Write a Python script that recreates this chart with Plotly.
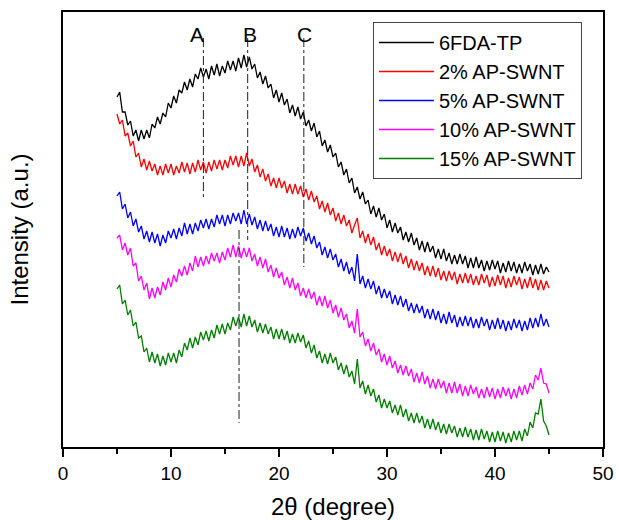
import plotly.graph_objects as go

# XRD scans, 2-theta 5..45 deg, step 0.25 deg (a.u.)
two_theta = [round(5.0 + 0.25 * i, 2) for i in range(161)]

fda_tp = [
    350, 355, 335, 335, 322, 326, 311, 317,
    306, 317, 308, 317, 309, 323, 319, 330,
    323, 334, 330, 344, 339, 351, 344, 357,
    354, 365, 357, 368, 360, 373, 368, 379,
    370, 378, 368, 381, 372, 383, 371, 381,
    374, 386, 377, 386, 376, 389, 379, 392,
    380, 390, 378, 383, 369, 375, 363, 371,
    359, 363, 349, 357, 345, 354, 342, 348,
    334, 342, 331, 340, 328, 335, 321, 327,
    316, 324, 310, 316, 301, 307, 295, 302,
    290, 294, 280, 285, 272, 278, 264, 269,
    254, 260, 248, 255, 243, 247, 233, 241,
    230, 239, 227, 233, 219, 227, 215, 224,
    214, 220, 207, 215, 205, 214, 202, 209,
    197, 206, 195, 205, 195, 201, 189, 198,
    188, 198, 186, 194, 183, 192, 183, 193,
    183, 191, 179, 189, 179, 190, 179, 187,
    176, 186, 177, 187, 178, 186, 174, 184,
    175, 186, 176, 185, 174, 183, 174, 185,
    176, 183, 172, 182, 173, 183, 173, 180,
    175,
]
swnt_2 = [
    333, 323, 327, 311, 314, 301, 306, 290,
    294, 280, 288, 277, 286, 276, 283, 272,
    281, 272, 283, 274, 283, 272, 281, 274,
    285, 275, 284, 273, 284, 275, 287, 277,
    285, 274, 285, 276, 287, 278, 287, 277,
    287, 279, 291, 282, 291, 280, 291, 281,
    294, 281, 288, 275, 282, 270, 278, 266,
    273, 261, 269, 259, 269, 259, 266, 254,
    263, 253, 263, 253, 261, 250, 258, 247,
    256, 245, 251, 238, 246, 235, 244, 232,
    239, 226, 234, 223, 232, 221, 227, 214,
    222, 229, 209, 216, 204, 213, 202, 210,
    197, 204, 192, 201, 191, 198, 186, 195,
    185, 194, 183, 191, 179, 188, 177, 186,
    176, 184, 172, 181, 171, 181, 170, 179,
    167, 176, 166, 176, 167, 175, 163, 173,
    164, 174, 164, 173, 162, 171, 162, 173,
    164, 172, 160, 170, 161, 172, 162, 171,
    159, 169, 160, 171, 162, 170, 158, 168,
    159, 170, 159, 168, 157, 167, 157, 166,
    159,
]
swnt_5 = [
    251, 255, 238, 243, 229, 235, 221, 228,
    215, 221, 208, 216, 205, 215, 204, 213,
    201, 212, 204, 216, 209, 218, 208, 219,
    211, 224, 213, 223, 213, 224, 216, 227,
    219, 228, 218, 228, 220, 232, 223, 232,
    221, 232, 223, 234, 226, 234, 223, 237,
    223, 233, 222, 230, 218, 227, 216, 226,
    216, 223, 211, 220, 210, 221, 210, 219,
    208, 218, 209, 220, 211, 219, 206, 214,
    203, 211, 199, 205, 192, 200, 189, 198,
    187, 193, 180, 188, 176, 185, 173, 180,
    166, 193, 163, 171, 159, 168, 158, 166,
    153, 161, 149, 158, 149, 156, 143, 152,
    142, 151, 140, 148, 136, 144, 134, 143,
    134, 141, 129, 138, 128, 138, 127, 136,
    124, 133, 123, 135, 124, 132, 120, 130,
    121, 131, 121, 130, 119, 128, 119, 130,
    121, 128, 117, 127, 118, 129, 118, 127,
    116, 126, 117, 128, 119, 127, 116, 126,
    117, 129, 119, 129, 120, 133, 121, 128,
    120,
]
swnt_10 = [
    209, 212, 197, 204, 192, 199, 181, 184,
    166, 171, 157, 164, 148, 159, 149, 160,
    152, 165, 157, 169, 160, 172, 165, 178,
    171, 181, 172, 184, 176, 191, 180, 190,
    181, 191, 183, 194, 186, 194, 184, 195,
    187, 199, 190, 202, 190, 201, 189, 199,
    190, 199, 186, 193, 181, 190, 179, 188,
    175, 182, 170, 179, 169, 175, 162, 170,
    159, 169, 157, 164, 151, 159, 149, 158,
    148, 155, 142, 151, 141, 151, 139, 147,
    134, 142, 130, 139, 127, 133, 119, 126,
    114, 138, 110, 115, 101, 108, 96, 104,
    92, 98, 85, 93, 82, 91, 79, 86,
    74, 82, 72, 81, 71, 78, 65, 74,
    64, 75, 63, 71, 59, 68, 58, 68,
    59, 66, 54, 64, 54, 65, 54, 63,
    51, 61, 51, 62, 53, 60, 49, 58,
    49, 60, 50, 59, 48, 58, 49, 60,
    51, 59, 48, 58, 49, 61, 52, 62,
    53, 64, 58, 72, 67, 79, 64, 63,
    54,
]
swnt_15 = [
    158, 162, 143, 147, 132, 137, 121, 125,
    109, 111, 95, 99, 85, 95, 84, 93,
    81, 91, 82, 94, 85, 94, 84, 97,
    90, 104, 97, 109, 99, 110, 102, 115,
    107, 116, 106, 117, 109, 122, 113, 123,
    113, 124, 117, 130, 121, 130, 120, 133,
    121, 131, 120, 127, 115, 124, 114, 123,
    113, 120, 108, 118, 108, 118, 107, 116,
    104, 113, 104, 114, 105, 112, 99, 106,
    94, 102, 89, 96, 84, 93, 83, 94,
    84, 90, 77, 84, 73, 82, 70, 76,
    63, 88, 59, 66, 53, 62, 51, 58,
    45, 52, 39, 48, 39, 46, 34, 42,
    32, 42, 30, 38, 26, 34, 24, 34,
    24, 31, 19, 28, 18, 28, 17, 25,
    14, 23, 13, 23, 14, 21, 10, 19,
    10, 20, 10, 18, 7, 17, 7, 18,
    8, 16, 5, 15, 5, 16, 6, 15,
    4, 14, 5, 16, 7, 16, 6, 18,
    11, 25, 19, 34, 33, 48, 26, 21,
    12,
]

series_names = ['6FDA-TP', '2% AP-SWNT', '5% AP-SWNT', '10% AP-SWNT', '15% AP-SWNT']
series_colors = ['#000000', '#ff0000', '#0000ff', '#ff00ff', '#007f00']

# reference lines: label, 2theta, top, bottom
ref_labels = ['A', 'B', 'C', '']
ref_pos = [13.0, 17.1, 22.3, 16.3]
ref_top = [409, 409, 409, 217]
ref_bottom = [249, 207, 180, 24]
label_x = [12.4, 17.3, 22.4]
label_y = 413

FONT = 'Liberation Sans, Arial, sans-serif'

fig = go.Figure()
for name, color, vals in zip(series_names, series_colors,
                             (fda_tp, swnt_2, swnt_5, swnt_10, swnt_15)):
    assert len(vals) == len(two_theta)
    fig.add_trace(go.Scatter(x=two_theta, y=vals, name=name, mode='lines',
                             line={'color': color, 'width': 1.3}))

for pos, top, bot in zip(ref_pos, ref_top, ref_bottom):
    fig.add_trace(go.Scatter(x=[pos, pos], y=[top, bot], mode='lines', showlegend=False,
                             hoverinfo='skip', line={'color': '#222222', 'width': 1, 'dash': 'dashdot'}))

for lab, lx in zip(ref_labels, label_x):
    fig.add_annotation(x=lx, y=label_y, xref='x', yref='y', text=lab, showarrow=False,
                       font={'size': 21, 'color': 'black', 'family': FONT})

fig.update_layout(
    width=617, height=520,
    margin={'l': 63, 'r': 14, 't': 12, 'b': 73},
    paper_bgcolor='white', plot_bgcolor='white',
    font={'family': FONT, 'color': 'black', 'size': 18},
    legend={'x': 0.574, 'y': 0.977, 'xanchor': 'left', 'yanchor': 'top',
            'bgcolor': 'white', 'bordercolor': '#444444', 'borderwidth': 1,
            'font': {'size': 20}, 'tracegroupgap': 0, 'itemwidth': 55},
    showlegend=True,
)
fig.update_xaxes(range=[0, 50], tickvals=[0, 10, 20, 30, 40, 50], ticks='outside', ticklen=8,
                 tickwidth=1.5, tickcolor='black', showline=True, linecolor='black', linewidth=2,
                 mirror=True, showgrid=False, zeroline=False, tickfont={'size': 19}, automargin=False,
                 minor={'tickvals': [5, 15, 25, 35, 45], 'ticks': 'outside', 'ticklen': 5,
                        'tickwidth': 1.5, 'tickcolor': 'black'},
                 title={'text': '2θ (degree)', 'font': {'size': 24}, 'standoff': 18})
fig.update_yaxes(range=[0, 435], showticklabels=False, ticks='', showline=True, linecolor='black',
                 linewidth=2, mirror=True, showgrid=False, zeroline=False, automargin=False,
                 title={'text': 'Intensity (a.u.)', 'font': {'size': 24}, 'standoff': 26})

# drop the browser's default 8px body margin so the figure fills the window
fig.write_html('out.html', config={'displayModeBar': False},
               post_script="document.body.style.margin = '0';")
